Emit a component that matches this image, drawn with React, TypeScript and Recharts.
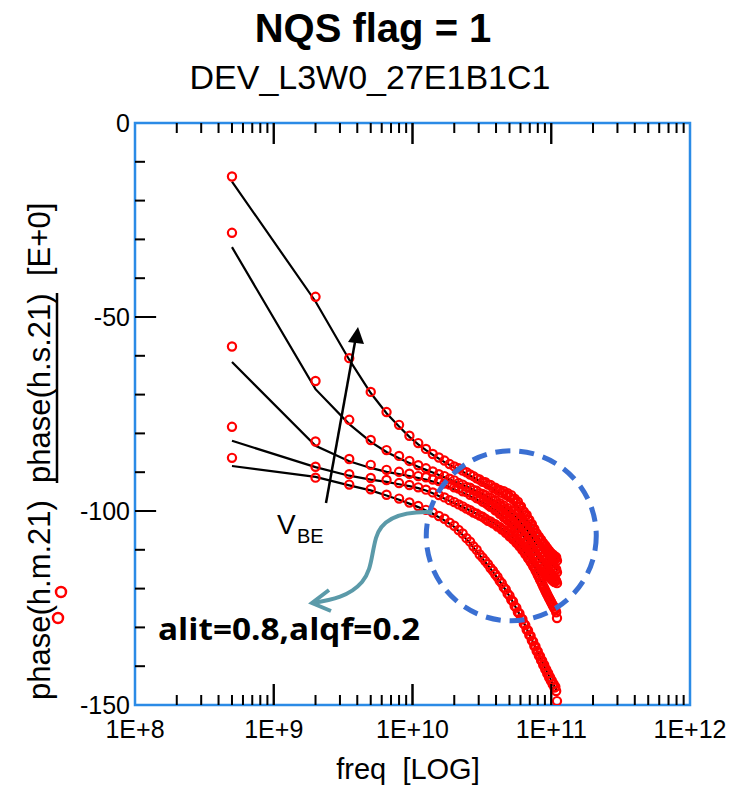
import { ComposedChart, Line, Scatter, XAxis, YAxis, ReferenceArea, ReferenceDot, ReferenceLine } from 'recharts';

// measured frequencies in GHz (h.m.21, red circles)
const MEAS_FREQ = [
  0.5, 2, 3.5, 5, 6.5, 8, 9.5, 11, 12.5, 14, 15.5, 17, 18.5, 20, 21.5, 23, 24.5, 26, 27.5, 29, 30.5, 32,
  33.5, 35, 36.5, 38, 39.5, 41, 42.5, 44, 45.5, 47, 48.5, 50, 51.5, 53, 54.5, 56, 57.5, 59, 60.5, 62, 63.5, 65, 66.5, 68,
  69.5, 71, 72.5, 74, 75.5, 77, 78.5, 80, 81.5, 83, 84.5, 86, 87.5, 89, 90.5, 92, 93.5, 95, 96.5, 98, 99.5, 101, 102.5, 104,
  105.5, 107, 108.5, 110,
];

const MEAS_A = [
  -13.8, -44.8, -60.6, -69.3, -74.5, -77.8, -80.6, -82.5, -84.0, -85.3, -86.2, -87.0, -87.9, -88.5, -89.0, -89.6, -90.0, -90.6, -91.0, -91.6, -91.9, -92.5,
  -92.6, -93.2, -93.3, -94.1, -94.0, -94.7, -94.6, -95.3, -94.9, -95.8, -95.4, -96.4, -95.9, -97.0, -96.8, -97.9, -97.6, -98.9, -98.8, -99.9, -100.2, -101.1, -101.0, -102.2,
  -102.3, -103.4, -103.4, -104.5, -104.6, -105.6, -105.8, -106.7, -106.6, -107.6, -107.4, -108.5, -108.2, -109.2, -108.9, -110.0, -109.6, -110.6, -110.2, -111.3, -110.8, -111.7, -111.2, -112.3,
  -111.6, -112.5, -111.9, -112.8,
];
const MEAS_B = [
  -28.3, -66.5, -76.5, -81.7, -84.3, -85.8, -87.1, -88.2, -89.0, -89.8, -90.5, -91.0, -91.7, -92.1, -92.8, -93.2, -93.8, -94.0, -94.6, -94.8, -95.4, -95.6,
  -95.9, -96.6, -96.6, -97.3, -97.2, -98.2, -98.0, -98.9, -98.6, -99.7, -99.3, -100.4, -100.0, -101.2, -100.8, -101.9, -101.7, -102.8, -102.6, -103.7, -103.6, -104.7, -104.6, -105.6,
  -105.5, -106.6, -106.4, -107.5, -107.3, -108.4, -108.1, -109.1, -108.9, -109.9, -109.7, -110.7, -110.5, -111.5, -111.3, -112.2, -112.0, -112.9, -112.8, -113.6, -113.5, -114.3, -114.1, -114.8,
  -114.6, -115.4, -115.0, -115.8,
];
const MEAS_C = [
  -57.6, -82.1, -86.6, -88.1, -89.4, -89.9, -90.4, -91.0, -91.3, -91.9, -92.3, -92.9, -93.2, -93.9, -94.2, -94.9, -95.1, -95.8, -96.0, -96.7, -96.9, -97.6,
  -97.9, -98.4, -98.9, -99.1, -99.8, -100.0, -100.7, -100.8, -101.6, -101.7, -102.4, -102.5, -103.3, -103.3, -104.3, -104.2, -105.3, -105.1, -106.3, -106.1, -107.3, -107.0, -108.4, -108.0,
  -109.5, -109.0, -110.5, -110.0, -111.5, -111.0, -112.4, -111.9, -113.3, -112.8, -114.1, -113.6, -114.9, -114.4, -115.6, -115.1, -116.3, -115.8, -116.9, -116.4, -117.5, -116.9, -117.9, -117.4,
  -118.3, -117.7, -118.0, -118.6,
];
const MEAS_D = [
  -78.3, -88.6, -90.5, -91.5, -92.0, -92.8, -93.3, -93.9, -94.5, -95.2, -95.9, -96.5, -97.2, -97.7, -98.3, -98.8, -99.4, -99.8, -100.4, -100.7, -101.2, -101.5,
  -102.0, -102.5, -102.7, -103.2, -103.4, -104.0, -104.1, -104.8, -104.9, -105.6, -105.7, -106.5, -106.5, -107.3, -107.4, -108.2, -108.3, -109.1, -109.3, -110.1, -110.3, -111.1, -111.3, -112.1,
  -112.4, -113.1, -113.5, -114.2, -114.6, -115.3, -115.8, -116.5, -117.0, -117.7, -118.2, -118.8, -119.4, -119.9, -120.5, -121.0, -121.5, -122.0, -122.5, -122.9, -123.4, -123.8, -124.3, -124.6,
  -125.1, -125.4, -126.1, -127.6,
];
const MEAS_E = [
  -86.3, -91.4, -93.2, -94.4, -95.8, -96.8, -97.8, -98.7, -99.7, -100.4, -101.3, -102.0, -103.0, -103.8, -104.9, -105.8, -107.0, -107.9, -109.1, -110.0, -111.2, -112.0,
  -112.9, -113.7, -114.7, -115.4, -116.3, -117.0, -118.0, -118.6, -119.7, -120.2, -121.3, -121.8, -122.9, -123.3, -124.5, -124.9, -126.1, -126.4, -127.6, -127.9, -129.1, -129.4, -130.6, -130.8,
  -132.0, -132.2, -133.4, -133.6, -134.8, -134.9, -136.1, -136.2, -137.3, -137.4, -138.5, -138.6, -139.7, -139.7, -140.8, -140.8, -141.9, -141.8, -142.9, -142.8, -143.8, -143.7, -144.7, -144.6,
  -145.5, -145.3, -146.4, -149.0,
];

// simulated frequencies in GHz (h.s.21, black lines)
const SIM_FREQ = [0.5, 2, 3.5, 5, 6.5, 8, 9.5, 11, 12.5, 14, 17, 20, 23, 26, 29, 35, 41, 47, 53, 59, 65, 71, 77, 83, 89, 95, 101, 107, 110];

const SIM_A = [-15.1, -46.0, -61.0, -69.6, -74.8, -78.2, -80.9, -82.8, -84.3, -85.5, -87.4, -88.8, -89.9, -90.9, -91.8, -93.5, -95.0, -96.5, -97.9, -99.6, -101.6, -103.7, -105.8, -107.6, -109.1, -110.5, -111.4, -112.0, -112.2];
const SIM_B = [-32.0, -68.6, -77.6, -82.2, -84.8, -86.4, -87.6, -88.6, -89.4, -90.1, -91.3, -92.4, -93.3, -94.1, -94.9, -96.4, -97.9, -99.4, -100.9, -102.5, -104.3, -106.2, -108.0, -109.6, -111.1, -112.6, -113.8, -114.8, -115.2];
const SIM_C = [-61.6, -83.2, -87.2, -88.9, -89.9, -90.5, -91.0, -91.5, -91.9, -92.4, -93.4, -94.4, -95.3, -96.2, -97.0, -98.6, -100.2, -101.8, -103.4, -105.2, -107.0, -109.0, -111.0, -112.8, -114.4, -115.8, -116.9, -117.7, -118.0];
const SIM_D = [-81.9, -88.7, -90.9, -91.9, -92.5, -93.1, -93.6, -94.1, -94.7, -95.4, -96.8, -98.0, -99.0, -99.9, -100.7, -102.2, -103.7, -105.3, -107.0, -108.8, -110.8, -112.8, -115.0, -117.4, -119.6, -121.6, -123.4, -124.9, -125.5];
const SIM_E = [-88.4, -91.2, -93.4, -94.7, -96.0, -97.1, -98.1, -99.0, -99.9, -100.7, -102.4, -104.1, -106.2, -108.3, -110.5, -114.0, -117.3, -120.4, -123.5, -126.6, -129.6, -132.5, -135.2, -137.7, -140.0, -142.1, -144.0, -145.6, -146.4];

const X_MAJOR = [1e8, 1e9, 1e10, 1e11, 1e12];
const X_LABELS = ['1E+8', '1E+9', '1E+10', '1E+11', '1E+12'];
const Y_TICKS = [-150, -140, -130, -120, -110, -100, -90, -80, -70, -60, -50, -40, -30, -20, -10, 0];
const Y_LABELED = [-150, -100, -50, 0];

const W = 744;
const H = 787;
const PLOT_TOP = 123;
const MAJOR_LEN = 21;
const MINOR_LEN = 10;
const FONT = '"Liberation Sans", Arial, sans-serif';

const xTicks: number[] = [];
X_MAJOR.slice(0, 4).forEach((d) => {
  for (let m = 1; m < 10; m++) xTicks.push(d * m);
});
xTicks.push(1e12);

const pts = (freqs: number[], vals: number[]) => freqs.map((f, i) => ({ f: f * 1e9, v: vals[i] }));

const measured = [MEAS_A, MEAS_B, MEAS_C, MEAS_D, MEAS_E].map((s) => pts(MEAS_FREQ, s));
const simulated = [SIM_A, SIM_B, SIM_C, SIM_D, SIM_E].map((s) => pts(SIM_FREQ, s));

// inward minor tick marks, placed through the chart scales
const xMinorMarks = xTicks.filter((f) => !X_MAJOR.includes(f)).map((f) => ({ f, v: -150 }));
const yMinorMarks = Y_TICKS.filter((v) => !Y_LABELED.includes(v)).map((v) => ({ f: 1e8, v }));
const xInnerMajor = X_MAJOR.slice(1, 4);
const yInnerMajor = Y_LABELED.slice(1, 3);

const XMinorMark = (p: any) => (
  <g>
    <rect x={p.cx - 1} y={p.cy - MINOR_LEN} width={2} height={MINOR_LEN} fill="#000" />
    <rect x={p.cx - 1} y={PLOT_TOP} width={2} height={MINOR_LEN} fill="#000" />
  </g>
);
const YMinorMark = (p: any) => <rect x={p.cx} y={p.cy - 1} width={MINOR_LEN} height={2} fill="#000" />;

// major ticks drawn with the axis tick renderer, next to their labels
function XTick(props: any) {
  const { x, y, payload } = props;
  const i = X_MAJOR.indexOf(payload.value);
  if (i < 0) return <g />;
  const inner = i > 0 && i < X_MAJOR.length - 1;
  return (
    <g>
      {inner && <rect x={x - 1} y={y - MAJOR_LEN} width={2} height={MAJOR_LEN} fill="#000" />}
      {inner && <rect x={x - 1} y={PLOT_TOP} width={2} height={MAJOR_LEN} fill="#000" />}
      <text x={x} y={y + 33} textAnchor="middle" fontSize={25} fontFamily={FONT} fill="#000">
        {X_LABELS[i]}
      </text>
    </g>
  );
}

function YTick(props: any) {
  const { x, y, payload } = props;
  if (!Y_LABELED.includes(payload.value)) return <g />;
  return (
    <g>
      {yInnerMajor.includes(payload.value) && (
        <rect x={x} y={y - 1} width={MAJOR_LEN} height={2} fill="#000" />
      )}
      <text x={x - 5} y={y} dy="0.36em" textAnchor="end" fontSize={25} fontFamily={FONT} fill="#000">
        {payload.value}
      </text>
    </g>
  );
}

const RedCircle = (p: any) => (
  <circle cx={p.cx} cy={p.cy} r={4.1} fill="none" stroke="#ff0000" strokeWidth={2.2} />
);

export default function App() {
  return (
    <div style={{ position: 'absolute', left: 0, top: 0, width: W, height: H, background: '#fff' }}>
      <ComposedChart width={W} height={H} margin={{ top: PLOT_TOP, right: 54, left: 75, bottom: 42 }}>
        <XAxis
          dataKey="f"
          type="number"
          scale="log"
          domain={[1e8, 1e12]}
          allowDataOverflow
          ticks={xTicks}
          interval={0}
          tick={<XTick />}
          tickSize={0}
          tickMargin={0}
          tickLine={false}
          axisLine={false}
          height={40}
        />
        <YAxis
          dataKey="v"
          type="number"
          domain={[-150, 0]}
          allowDataOverflow
          ticks={Y_TICKS}
          interval={0}
          tick={<YTick />}
          tickSize={0}
          tickMargin={0}
          tickLine={false}
          axisLine={false}
          width={60}
        />
        <Scatter data={xMinorMarks} dataKey="v" shape={XMinorMark} isAnimationActive={false} />
        <Scatter data={yMinorMarks} dataKey="v" shape={YMinorMark} isAnimationActive={false} />
        {xInnerMajor.map((f) => (
          <ReferenceLine key={`xb${f}`} segment={[{ x: f, y: -150 }, { x: f, y: -144.6 }]} stroke="#000" strokeWidth={2} />
        ))}
        {xInnerMajor.map((f) => (
          <ReferenceLine key={`xt${f}`} segment={[{ x: f, y: 0 }, { x: f, y: -5.4 }]} stroke="#000" strokeWidth={2} />
        ))}
        {yInnerMajor.map((v) => (
          <ReferenceLine key={`yl${v}`} segment={[{ x: 1e8, y: v }, { x: 1.42e8, y: v }]} stroke="#000" strokeWidth={2} />
        ))}
        {measured.map((d, i) => (
          <Scatter key={`m${i}`} data={d} dataKey="v" shape={RedCircle} isAnimationActive={false} />
        ))}
        {simulated.map((d, i) => (
          <Line
            key={`s${i}`}
            data={d}
            dataKey="v"
            type="linear"
            stroke="#000"
            strokeWidth={2.2}
            dot={false}
            activeDot={false}
            isAnimationActive={false}
          />
        ))}
        <ReferenceArea x1={1e8} x2={1e12} y1={-150} y2={0} fill="none" stroke="#2b8be6" strokeWidth={2.5} />
        <ReferenceDot
          x={5.15e10}
          y={-106.4}
          r={85}
          fill="none"
          stroke="#3a6fd2"
          strokeWidth={5}
          strokeDasharray="15 9"
        />
      </ComposedChart>
      <svg
        width={W}
        height={H}
        style={{ position: 'absolute', left: 0, top: 0, pointerEvents: 'none' }}
      >
        <text x={373} y={42} textAnchor="middle" fontSize={40} fontWeight="bold" fontFamily={FONT}>
          NQS flag = 1
        </text>
        <text x={370} y={89} textAnchor="middle" fontSize={34} fontFamily={FONT}>
          DEV_L3W0_27E1B1C1
        </text>
        <text x={408} y={779} textAnchor="middle" fontSize={29} fontFamily={FONT}>
          freq{'\u00a0\u00a0'}[LOG]
        </text>

        {/* y axis title with legend marks */}
        <g fontSize={31} fontFamily={FONT}>
          <text transform="translate(50,700) rotate(-90)">phase(h.m.21)</text>
          <text transform="translate(50,483) rotate(-90)">phase(h.s.21)</text>
          <text transform="translate(50,276) rotate(-90)">[E+0]</text>
        </g>
        <line x1={57} x2={57} y1={293} y2={483} stroke="#000" strokeWidth={2.5} />
        <circle cx={61} cy={592} r={5} fill="none" stroke="#ff0000" strokeWidth={2.5} />
        <circle cx={58} cy={618} r={5} fill="none" stroke="#ff0000" strokeWidth={2.5} />

        {/* V_BE arrow */}
        <line x1={326} y1={503} x2={355} y2={342} stroke="#000" strokeWidth={2.5} />
        <polygon points="358,327 348,342 364,344" fill="#000" />
        <text x={277} y={534} fontSize={28} fontFamily={FONT}>V</text>
        <text x={297} y={543} fontSize={20} fontFamily={FONT}>BE</text>

        {/* teal pointer to parameter note */}
        <path
          d="M 432 512 C 405 511 382 516 376 538 C 371 556 372 570 362 582 C 350 596 332 600 313 603"
          fill="none"
          stroke="#5b9aa9"
          strokeWidth={4}
        />
        <polyline points="329,590 312,603 331,611" fill="none" stroke="#5b9aa9" strokeWidth={4} />
        <text
          x={158}
          y={640}
          fontSize={31}
          fontWeight="bold"
          fontFamily='"Open Sans", "Noto Sans", sans-serif'
          textLength={262}
          lengthAdjust="spacingAndGlyphs"
        >
          alit=0.8,alqf=0.2
        </text>
      </svg>
    </div>
  );
}
